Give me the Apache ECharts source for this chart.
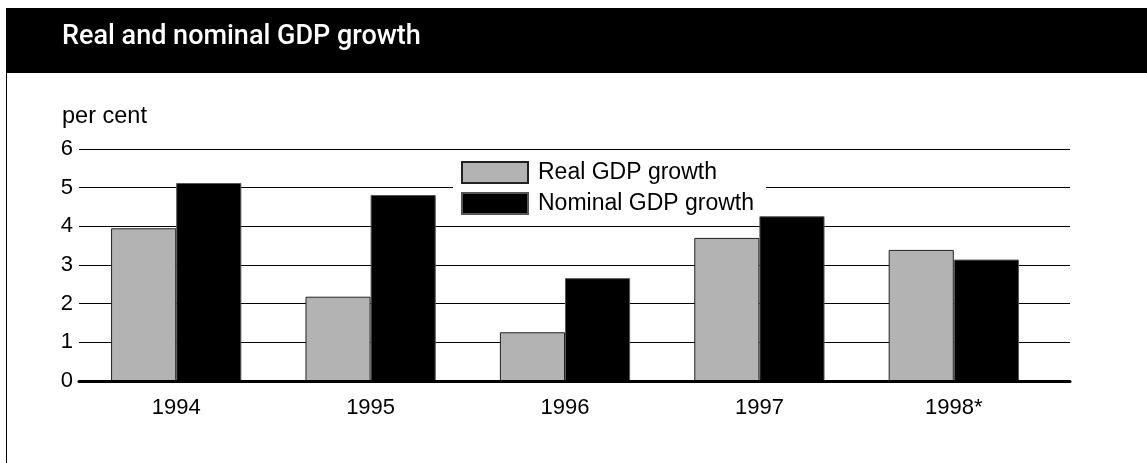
<!DOCTYPE html>
<html>
<head>
<meta charset="utf-8">
<script src="https://cdn.jsdelivr.net/npm/echarts@6/dist/echarts.min.js"></script>
<style>
html,body{margin:0;padding:0;background:#fff;}
#chart{width:1147px;height:463px;}
</style>
</head>
<body>
<div id="chart"></div>
<script>
const categories = ['1994', '1995', '1996', '1997', '1998*'];
const realGdp = [3.95, 2.18, 1.26, 3.70, 3.39];
const nominalGdp = [5.12, 4.81, 2.66, 4.26, 3.14];
const seriesNames = ['Real GDP growth', 'Nominal GDP growth'];
const titleText = 'Real and nominal GDP growth';
const unitText = 'per cent';

const FONT = '"Liberation Sans", Arial, sans-serif';
const chart = echarts.init(document.getElementById('chart'), null, {renderer: 'canvas'});
chart.setOption({
  animation: false,
  backgroundColor: '#fff',
  graphic: [
    {type: 'rect', shape: {x: 6, y: 8, width: 1141, height: 65}, style: {fill: '#000'}, z: 0},
    {type: 'line', shape: {x1: 6.5, y1: 73, x2: 6.5, y2: 463}, style: {stroke: '#000', lineWidth: 1}, z: 0}
  ],
  title: [
    {text: titleText, left: 62, top: 24, padding: 0,
     textStyle: {color: '#fff', fontFamily: 'Roboto, sans-serif', fontWeight: 500, fontSize: 27}},
    {text: unitText, left: 62, top: 105, padding: 0,
     textStyle: {color: '#000', fontFamily: FONT, fontWeight: 'normal', fontSize: 23.5}}
  ],
  legend: {
    orient: 'vertical', left: 453, top: 155,
    padding: [6, 12, 3, 8], backgroundColor: '#fff',
    itemWidth: 66, itemHeight: 21, itemGap: 8,
    icon: 'rect',
    textStyle: {color: '#000', fontFamily: FONT, fontSize: 23, padding: [0, 0, 0, 5]},
    data: seriesNames,
    z: 2
  },
  grid: [
    {left: 79, right: 96, top: 149, bottom: 82},
    {left: 79, right: 77, top: 149, bottom: 82}
  ],
  xAxis: [
    {type: 'category', gridIndex: 0, data: categories,
     axisLine: {show: false}, axisTick: {show: false},
     axisLabel: {color: '#000', fontFamily: FONT, fontSize: 22, margin: 16}},
    {type: 'value', gridIndex: 1, min: 0, max: 1, z: 5,
     axisLine: {show: true, lineStyle: {color: '#000', width: 3}},
     axisTick: {show: false}, axisLabel: {show: false}, splitLine: {show: false}}
  ],
  yAxis: [
    {type: 'value', gridIndex: 0, min: 0, max: 6, interval: 1, show: false},
    {type: 'value', gridIndex: 1, min: 0, max: 6, interval: 1,
     axisLine: {show: false}, axisTick: {show: false},
     axisLabel: {color: '#000', fontFamily: FONT, fontSize: 22, margin: 6},
     splitLine: {show: true, lineStyle: {color: '#000', width: 1.2}}}
  ],
  series: [
    {name: seriesNames[0], type: 'bar', xAxisIndex: 0, yAxisIndex: 0, data: realGdp,
     barGap: '0%', barCategoryGap: '33%',
     itemStyle: {color: '#b3b3b3', borderColor: '#222', borderWidth: 1}, z: 3},
    {name: seriesNames[1], type: 'bar', xAxisIndex: 0, yAxisIndex: 0, data: nominalGdp,
     barGap: '0%', barCategoryGap: '33%',
     itemStyle: {color: '#000', borderColor: '#555', borderWidth: 1}, z: 3}
  ]
});
</script>
</body>
</html>
